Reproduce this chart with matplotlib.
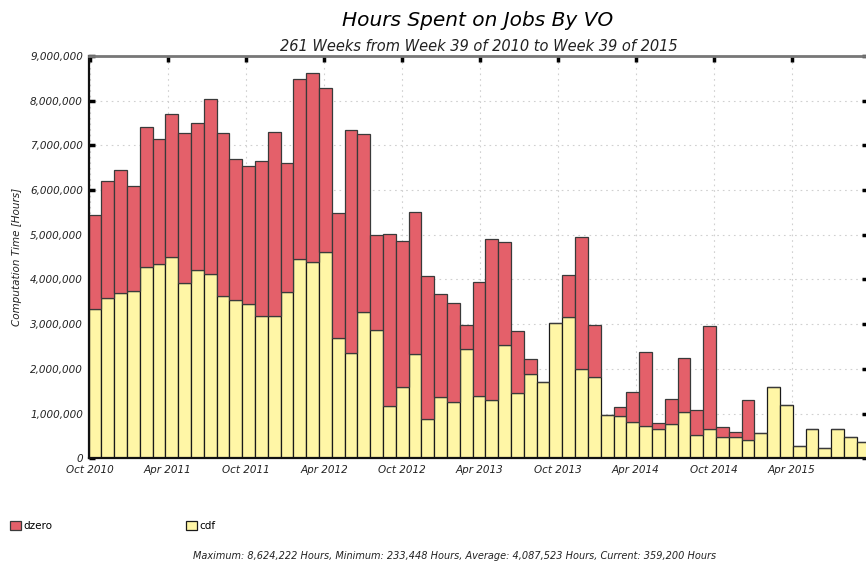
import matplotlib
matplotlib.use("Agg")
import matplotlib.pyplot as plt
import matplotlib.dates as mdates
from matplotlib.ticker import FuncFormatter, MultipleLocator
import numpy as np

# 30-day bins starting at week 39 of 2010, values in millions of hours
bin_start = np.datetime64("2010-09-27")
bin_days = 30

cdf = [3.33, 3.59, 3.69, 3.74, 4.27, 4.35, 4.50, 3.92, 4.22, 4.12,
       3.63, 3.53, 3.45, 3.19, 3.19, 3.73, 4.45, 4.38, 4.61, 2.68,
       2.35, 3.27, 2.88, 1.17, 1.60, 2.33, 0.89, 1.38, 1.25, 2.45,
       1.40, 1.30, 2.53, 1.45, 1.89, 1.71, 3.02, 3.17, 1.99, 1.81,
       0.97, 0.94, 0.81, 0.73, 0.66, 0.76, 1.04, 0.51, 0.66, 0.48,
       0.48, 0.40, 0.56, 1.60, 1.20, 0.28, 0.66, 0.23, 0.66, 0.48,
       0.36]
dzero = [2.11, 2.61, 2.77, 2.36, 3.13, 2.80, 3.21, 3.35, 3.29, 3.92,
         3.64, 3.16, 3.08, 3.47, 4.11, 2.87, 4.03, 4.24, 3.68, 2.80,
         5.00, 3.98, 2.11, 3.85, 3.26, 3.19, 3.18, 2.30, 2.23, 0.54,
         2.54, 3.61, 2.31, 1.39, 0.34, 0.00, 0.00, 0.93, 2.95, 1.18,
         0.00, 0.21, 0.67, 1.65, 0.13, 0.57, 1.21, 0.56, 2.30, 0.21,
         0.10, 0.90, 0.00, 0.00, 0.00, 0.00, 0.00, 0.00, 0.00, 0.00,
         0.00]

cdf = np.array(cdf) * 1e6
dzero = np.array(dzero) * 1e6
dates = bin_start + np.arange(len(cdf)) * np.timedelta64(bin_days, "D")
x = mdates.date2num(dates)

plt.rcParams['font.family'] = ['DejaVu Sans']

fig = plt.figure(figsize=(8.66, 5.66), dpi=100)
ax = fig.add_axes([0.1022, 0.1903, 0.900, 0.7108])

bar_cdf = ax.bar(x, cdf, width=bin_days, align='edge', color='#fff6a6',
                 edgecolor='#1a1a1a', linewidth=0.9, label='cdf')
bar_dz = ax.bar(x, dzero, width=bin_days, bottom=cdf, align='edge',
                color='#e4606a', edgecolor='#3a3a3a', linewidth=0.9, label='dzero')

ax.set_axisbelow(True)
ax.grid(True, color='#d0d0d0', linestyle=(0, (1.5, 3.5)), linewidth=0.8)

ax.set_ylim(0, 9e6)
ax.yaxis.set_major_locator(MultipleLocator(1e6))
ax.yaxis.set_major_formatter(FuncFormatter(lambda v, p: f"{v:,.0f}"))
ax.set_xlim(x[0], x[0] + 1826)
ax.xaxis.set_major_locator(mdates.MonthLocator(bymonth=[4, 10]))
ax.xaxis.set_major_formatter(mdates.DateFormatter('%b %Y'))

ax.tick_params(direction='in', length=4, width=2.5, top=True, right=True,
               labelsize=7.5, color='black')
ax.tick_params(axis='x', pad=5)
ax.tick_params(axis='y', pad=4)
for lab in ax.get_xticklabels() + ax.get_yticklabels():
    lab.set_fontstyle('italic')
    lab.set_color('#222222')

for s in ['left', 'bottom']:
    ax.spines[s].set_color('#111111')
    ax.spines[s].set_linewidth(1.6)
ax.spines['top'].set_color('#777777')
ax.spines['top'].set_linewidth(2)
ax.spines['right'].set_color('#777777')

ax.set_ylabel('Computation Time [Hours]', fontsize=7.5, fontstyle='italic',
              color='#222222', labelpad=6)

fig.text(0.552, 0.963, 'Hours Spent on Jobs By VO', ha='center', va='center',
         fontsize=14.5, fontstyle='italic')
fig.text(0.553, 0.918, '261 Weeks from Week 39 of 2010 to Week 39 of 2015',
         ha='center', va='center', fontsize=10.5, fontstyle='italic', color='#222222')

fig.legend(handles=[bar_dz, bar_cdf], labels=['dzero', 'cdf'], loc='center left',
           bbox_to_anchor=(0.001, 0.071), ncol=2, frameon=False, fontsize=7.5,
           handlelength=1.0, handleheight=1.0, handletextpad=0.3,
           columnspacing=12.8)

fig.text(0.525, 0.017,
         'Maximum: 8,624,222 Hours, Minimum: 233,448 Hours, '
         'Average: 4,087,523 Hours, Current: 359,200 Hours',
         ha='center', va='center', fontsize=7, fontstyle='italic', color='#222222')

fig.savefig('out.png', dpi=100)
